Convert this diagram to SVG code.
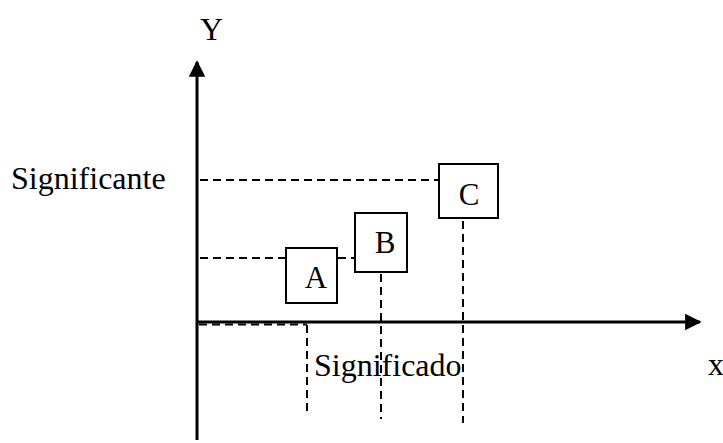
<svg xmlns="http://www.w3.org/2000/svg" width="723" height="443" viewBox="0 0 723 443">
  <style>
    .axis { stroke: #000; stroke-width: 3; fill: none; }
    .guide { stroke: #000; stroke-width: 2; stroke-dasharray: 8 5; fill: none; }
    .box { fill: #fff; stroke: #000; stroke-width: 2; }
    .label { font-family: "Liberation Serif", "Times New Roman", serif; font-size: 32px; fill: #000; }
    .boxlabel { font-family: "Liberation Serif", "Times New Roman", serif; font-size: 31px; fill: #000; text-anchor: middle; }
  </style>
  <defs>
    <marker id="arrow" viewBox="0 0 10 10" refX="9" refY="5" markerWidth="5.5" markerHeight="5.5" orient="auto" markerUnits="strokeWidth">
      <path d="M0,0 L10,5 L0,10 Z" fill="#000"/>
    </marker>
  </defs>

  <!-- axes -->
  <g id="axes">
    <line class="axis" x1="197" y1="440" x2="197" y2="62" marker-end="url(#arrow)"/>
    <line class="axis" x1="196" y1="322" x2="700" y2="322" marker-end="url(#arrow)"/>
  </g>

  <!-- dashed guide lines -->
  <g id="connectors">
    <line class="guide" x1="200" y1="180" x2="439" y2="180"/>
    <line class="guide" x1="200" y1="258" x2="286" y2="258"/>
    <line class="guide" x1="338" y1="258" x2="355" y2="258"/>
    <line class="guide" x1="199" y1="324.5" x2="307" y2="324.5"/>
    <line class="guide" x1="307" y1="325" x2="307" y2="414"/>
    <line class="guide" x1="381" y1="274" x2="381" y2="419"/>
    <line class="guide" x1="463" y1="221" x2="463" y2="423"/>
  </g>

  <g id="node-a">
    <rect class="box" x="286" y="248" width="51" height="55"/>
    <text class="boxlabel" x="316" y="288">A</text>
  </g>
  <g id="node-b">
    <rect class="box" x="355" y="213" width="52" height="59"/>
    <text class="boxlabel" x="385" y="253">B</text>
  </g>
  <g id="node-c">
    <rect class="box" x="439" y="164" width="59" height="54"/>
    <text class="boxlabel" x="469" y="205">C</text>
  </g>

  <!-- axis labels -->
  <text class="label" x="200" y="40">Y</text>
  <text class="label" x="11" y="189">Significante</text>
  <text class="label" x="314" y="376">Significado</text>
  <text class="label" x="708" y="375">x</text>
</svg>
